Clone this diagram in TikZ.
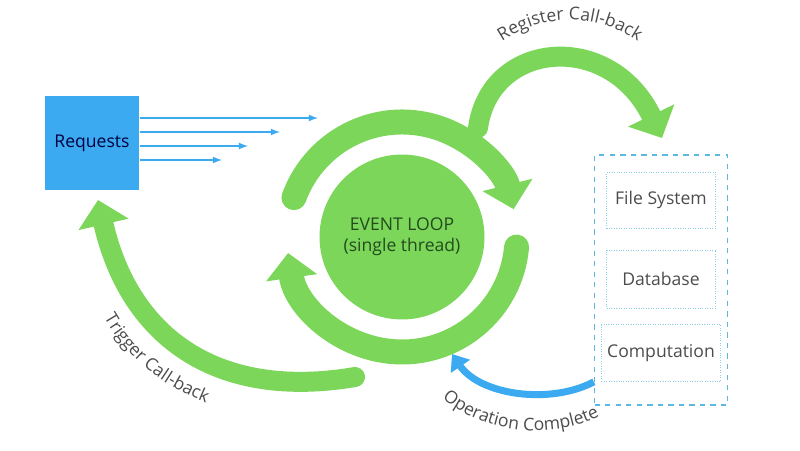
\documentclass[tikz,border=0pt]{standalone}
\usepackage{fontspec}
\setmainfont{Open Sans}
\usetikzlibrary{arrows.meta,decorations.text}
\definecolor{verde}{RGB}{124,214,90}
\definecolor{azzurro}{RGB}{59,170,240}
\definecolor{celeste}{RGB}{90,185,225}
\definecolor{scuro}{RGB}{35,75,30}
\tikzset{
  grossa/.style={draw=verde,line width=0.5cm,line cap=round,-{Triangle[width=1cm,length=0.5cm]}},
  scatola/.style={draw=celeste!70,densely dotted,minimum width=2.18cm,text=black!70},
  etich/.style={decorate,decoration={text along path,text align=center,text color=black!70}}
}
\begin{document}
\begin{tikzpicture}[x=0.02cm,y=0.02cm]
\useasboundingbox (0,0) rectangle (800,450);

  %% richieste
  \node[fill=azzurro,minimum size=1.9cm,text=black!75!blue] (req) at (92,307) {Requests};
  \coordinate (r1) at (318,332);
  \coordinate (r2) at (280,318);
  \coordinate (r3) at (248,304);
  \coordinate (r4) at (222,290);
  \foreach \n/\y in {r1/332,r2/318,r3/304,r4/290} \draw[azzurro,thick,-latex] (req.east |- 0,\y)--(\n);

  %% ciclo di eventi
  \node[circle,fill=verde,minimum size=3.3cm,align=center,text=scuro] (loop) at (402,213) {EVENT LOOP\\(single thread)};
  \draw[grossa] (loop.center) ++(160:115) arc (160:14:115);
  \draw[grossa] (loop.center) ++(-5:115) arc (-5:-172:115);

  %% operazioni
  \node[draw=celeste,dashed,thick,minimum width=2.66cm,minimum height=5cm] (ops) at (661,170) {};
  \node[scatola,minimum height=1.12cm] (fs) at (661,250) {File System};
  \node[scatola,minimum height=1.16cm] (db) at (661,171) {Database};
  \node[scatola,minimum height=1.14cm] (comp) at (661,97) {Computation};

  %% frecce curve
  \coordinate (reg) at (478,322);
  \coordinate (regtip) at (662,312);
  \draw[grossa,line width=0.4cm] (reg) .. controls (490,410) and (610,420) .. (regtip);
  \path[etich,decoration={text={Register Call-back}}] (490,400) .. controls (540,440) and (600,440) .. (650,400);

  \coordinate (trig) at (355,73);
  \coordinate (trigtip) at (98,250);
  \draw[grossa,line width=0.4cm] (trig) .. controls (220,50) and (130,110) .. (trigtip);
  \path[etich,decoration={text={Trigger Call-back}}] (95,150) .. controls (120,95) and (160,62) .. (225,40);

  \coordinate (opdone) at (452,96);
  \draw[azzurro,line width=0.14cm,-{Triangle[width=0.45cm,length=0.3cm]}] (ops.west |- comp.south) .. controls (550,45) and (480,55) .. (opdone);
  \path[etich,decoration={text={Operation Complete}}] (442,52) .. controls (490,12) and (560,12) .. (600,34);
\end{tikzpicture}
\end{document}
